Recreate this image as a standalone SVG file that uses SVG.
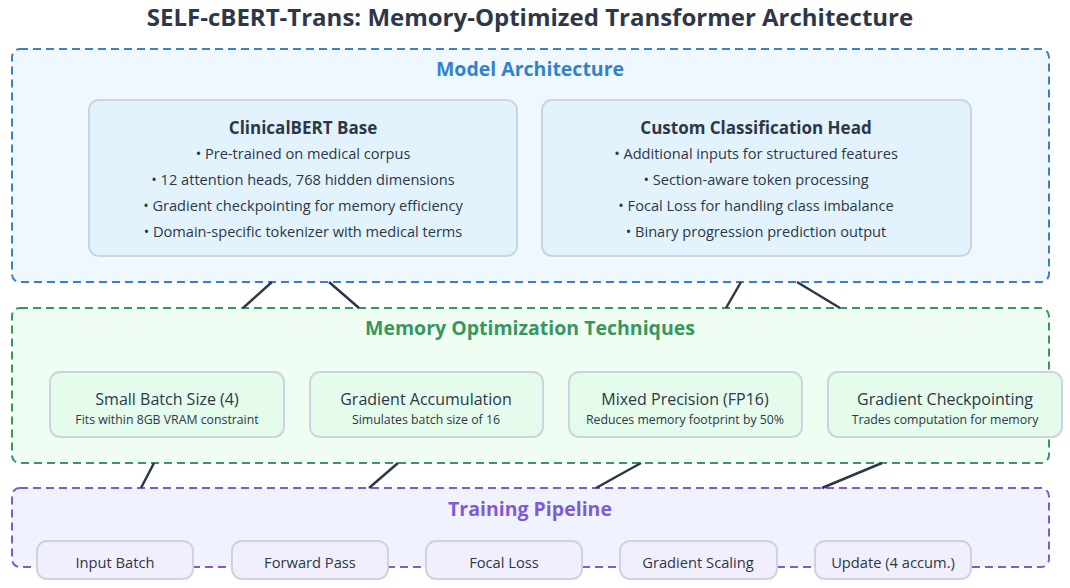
<svg xmlns="http://www.w3.org/2000/svg" width="1070" height="588" viewBox="0 0 1070 588">
<style>
text{font-family:"Open Sans","Noto Sans","DejaVu Sans",sans-serif;text-anchor:middle;dominant-baseline:central;fill:#2d3748}
.title{font-size:24px;font-weight:700}
.ctitle{font-size:19.5px;font-weight:700}
.cont{stroke-width:2;stroke-dasharray:8,5}
.node{stroke:#cbd5e0;stroke-width:2}
.h{font-size:17px;font-weight:700}
.b{font-size:14.6px}
.m{font-size:16px}
.s{font-size:12.3px}
.p{font-size:14.7px}
.conn line{stroke:#2d3748;stroke-width:2.5}
</style>
<rect width="1070" height="588" fill="#ffffff"/>
<text class="title" x="530" y="16">SELF-cBERT-Trans: Memory-Optimized Transformer Architecture</text>

<g id="model-architecture">
<rect class="cont" x="12" y="49" width="1037" height="233" rx="8" fill="#eff8fe" stroke="#3b7fc4"/>
<text class="ctitle" x="530" y="68" style="fill:#3182ce">Model Architecture</text>
</g>
<g id="clinicalbert">
<rect class="node" x="89" y="100" width="428" height="156" rx="10" fill="#e2f3fd"/>
<text class="h" x="303" y="127">ClinicalBERT Base</text>
<text class="b" x="303" y="153">• Pre-trained on medical corpus</text>
<text class="b" x="303" y="179">• 12 attention heads, 768 hidden dimensions</text>
<text class="b" x="303" y="205">• Gradient checkpointing for memory efficiency</text>
<text class="b" x="303" y="231">• Domain-specific tokenizer with medical terms</text>
</g>
<g id="classification-head">
<rect class="node" x="542" y="100" width="429" height="156" rx="10" fill="#e2f3fd"/>
<text class="h" x="756" y="127">Custom Classification Head</text>
<text class="b" x="756" y="153">• Additional inputs for structured features</text>
<text class="b" x="756" y="179">• Section-aware token processing</text>
<text class="b" x="756" y="205">• Focal Loss for handling class imbalance</text>
<text class="b" x="756" y="231">• Binary progression prediction output</text>
</g>

<g id="memory-optimization">
<rect class="cont" x="12" y="308" width="1037" height="155" rx="8" fill="#effdf3" stroke="#38965f"/>
<text class="ctitle" x="530" y="327" style="fill:#38965f">Memory Optimization Techniques</text>
</g>
<g id="small-batch">
<rect class="node" x="50" y="372" width="234" height="65" rx="10" fill="#e5fbec"/>
<text class="m" x="167" y="399">Small Batch Size (4)</text>
<text class="s" x="167" y="419">Fits within 8GB VRAM constraint</text>
</g>
<g id="grad-accum">
<rect class="node" x="310" y="372" width="233" height="65" rx="10" fill="#e5fbec"/>
<text class="m" x="426" y="399">Gradient Accumulation</text>
<text class="s" x="426" y="419">Simulates batch size of 16</text>
</g>
<g id="mixed-precision">
<rect class="node" x="569" y="372" width="233" height="65" rx="10" fill="#e5fbec"/>
<text class="m" x="685" y="399">Mixed Precision (FP16)</text>
<text class="s" x="685" y="419">Reduces memory footprint by 50%</text>
</g>
<g id="grad-checkpoint">
<rect class="node" x="828" y="372" width="234" height="65" rx="10" fill="#e5fbec"/>
<text class="m" x="945" y="399">Gradient Checkpointing</text>
<text class="s" x="945" y="419">Trades computation for memory</text>
</g>

<g id="training-pipeline">
<rect class="cont" x="12" y="488" width="1037" height="79" rx="8" fill="#f0f3fe" stroke="#805ad5"/>
<text class="ctitle" x="530" y="508" style="fill:#805ad5">Training Pipeline</text>
</g>
<g id="input-batch">
<rect class="node" x="37" y="541" width="156" height="38" rx="10" fill="#f1effd"/>
<text class="p" x="115" y="561.5">Input Batch</text>
</g>
<g id="forward-pass">
<rect class="node" x="232" y="541" width="156" height="38" rx="10" fill="#f1effd"/>
<text class="p" x="310" y="561.5">Forward Pass</text>
</g>
<g id="focal-loss">
<rect class="node" x="426" y="541" width="156" height="38" rx="10" fill="#f1effd"/>
<text class="p" x="504" y="561.5">Focal Loss</text>
</g>
<g id="gradient-scaling">
<rect class="node" x="620" y="541" width="157" height="38" rx="10" fill="#f1effd"/>
<text class="p" x="698" y="561.5">Gradient Scaling</text>
</g>
<g id="update">
<rect class="node" x="815" y="541" width="156" height="38" rx="10" fill="#f1effd"/>
<text class="p" x="893" y="561.5">Update (4 accum.)</text>
</g>

<g id="connectors" class="conn">
<line x1="272" y1="282" x2="243" y2="308"/>
<line x1="329" y1="282" x2="359" y2="308"/>
<line x1="741" y1="282" x2="726" y2="308"/>
<line x1="797" y1="282" x2="840" y2="308"/>
<line x1="154" y1="463" x2="141" y2="488"/>
<line x1="398" y1="463" x2="369" y2="488"/>
<line x1="641" y1="463" x2="596" y2="488"/>
<line x1="882" y1="463" x2="822" y2="488"/>
</g>
</svg>
